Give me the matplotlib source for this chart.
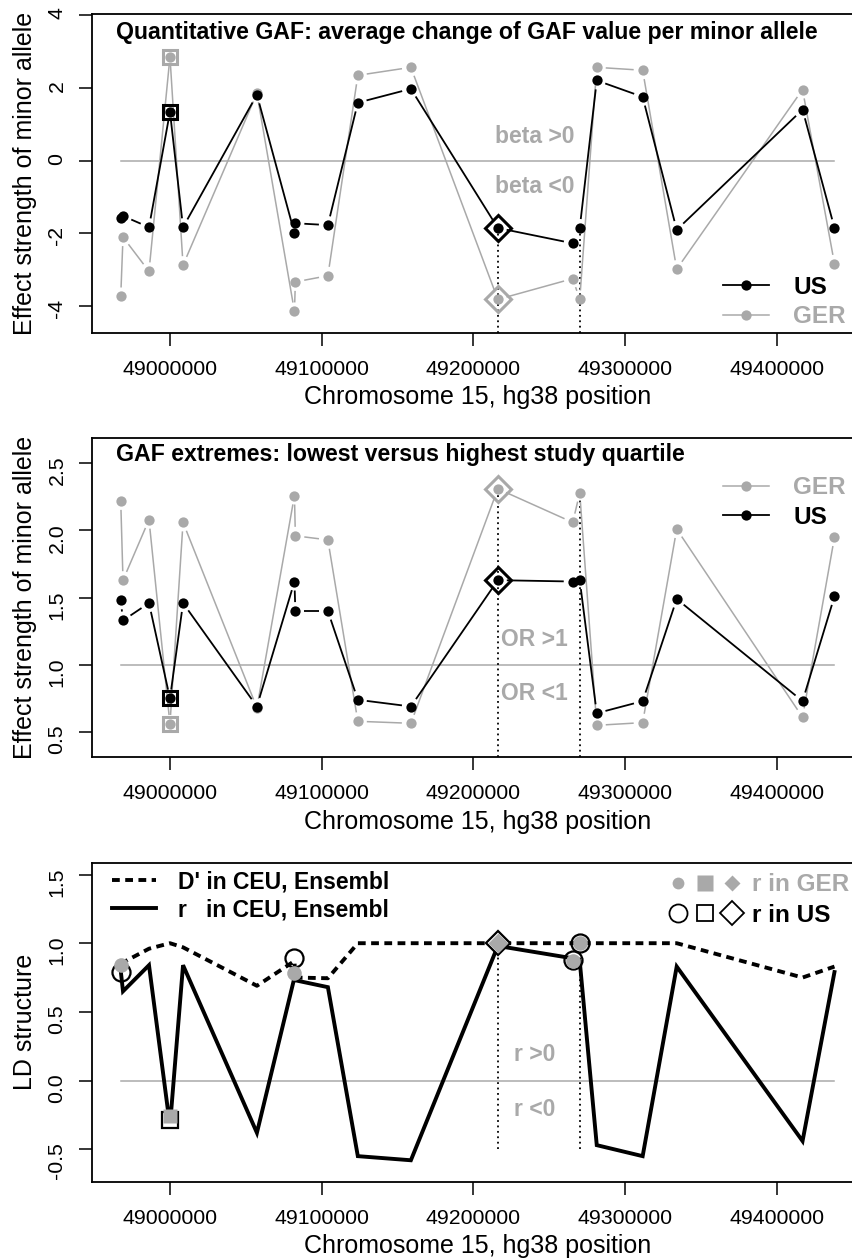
import numpy as np
import matplotlib.pyplot as plt
from matplotlib.lines import Line2D
from matplotlib.legend_handler import HandlerTuple

plt.rcParams['font.family'] = ['Liberation Sans', 'DejaVu Sans']

# SNP positions on chromosome 15 (hg38)
pos = [48967900, 48969400, 48986500, 49000300, 49008900, 49057500,
       49082200, 49082800, 49104200, 49123900, 49158800, 49216000,
       49265300, 49269900, 49281100, 49311300, 49333700, 49416500, 49437500]

# quantitative GAF: beta per minor allele
beta_us = [-1.58, -1.52, -1.83, 1.34, -1.83, 1.81, -1.99, -1.72, -1.77, 1.59,
           1.97, -1.85, -2.27, -1.85, 2.20, 1.75, -1.90, 1.40, -1.85]
beta_ger = [-3.73, -2.10, -3.04, 2.85, -2.87, 1.85, -4.14, -3.33, -3.16, 2.34,
            2.56, -3.81, -3.24, -3.81, 2.56, 2.48, -2.98, 1.95, -2.83]

# GAF extremes: odds ratios
or_us = [1.48, 1.33, 1.46, 0.75, 1.46, 0.69, 1.62, 1.40, 1.40, 0.74,
         0.69, 1.63, 1.62, 1.63, 0.64, 0.73, 1.49, 0.73, 1.51]
or_ger = [2.22, 1.63, 2.08, 0.56, 2.06, 0.68, 2.26, 1.96, 1.93, 0.58,
          0.565, 2.31, 2.06, 2.28, 0.55, 0.57, 2.01, 0.61, 1.95]

# LD in CEU (Ensembl)
dprime_ceu = [0.85, 0.86, 0.96, 1.0, 0.97, 0.69, 0.87, 0.75, 0.745, 1.0,
              1.0, 1.0, 1.0, 1.0, 1.0, 1.0, 1.0, 0.75, 0.83]
r_ceu = [0.80, 0.65, 0.84, -0.33, 0.84, -0.38, 0.75, 0.73, 0.68, -0.55,
         -0.58, 0.98, 0.89, 0.87, -0.47, -0.55, 0.83, -0.44, 0.79]

# LD of selected SNPs with the lead SNP in the two studies
ld_idx = [0, 3, 6, 11, 12, 13]
r_us = [0.79, -0.29, 0.89, 1.0, 0.88, 1.0]
r_ger = [0.84, -0.26, 0.78, 1.0, 0.87, 1.0]
ld_shape = ['o', 's', 'o', 'D', 'o', 'o']

sq_snp = 3       # marked with a square
dia_snp = 11     # marked with a diamond
vline_snps = [11, 13]

xticks = [49000000, 49100000, 49200000, 49300000, 49400000]
xlab = 'Chromosome 15, hg38 position'
GRAY = '#A9A9A9'

W, H = 853, 1259
AX_L, AX_R = 92, 863.5
AW = AX_R - AX_L
fig = plt.figure(figsize=(W / 100, H / 100), dpi=100)


def make_axes(top, bottom, ylim, yticks, fmt, ylabel):
    ax = fig.add_axes([AX_L / W, 1 - bottom / H, AW / W, (bottom - top) / H])
    ax.set_xlim(48949000, 49456600)
    ax.set_ylim(*ylim)
    ax.set_xticks(xticks)
    ax.set_xticklabels([str(t) for t in xticks])
    ax.set_yticks(yticks)
    ax.set_yticklabels([fmt % t for t in yticks])
    ax.tick_params(length=9.4, width=1.1, labelsize=15.3)
    ax.tick_params(axis='x', pad=10)
    ax.tick_params(axis='y', labelrotation=90, pad=9)
    ax.spines['right'].set_visible(False)
    for s in ['left', 'top', 'bottom']:
        ax.spines[s].set_linewidth(1.3)
    ax.set_xlabel(xlab, fontsize=18, va='center')
    ax.xaxis.set_label_coords(0.5, -64.5 / (bottom - top))
    ax.set_ylabel(ylabel, fontsize=18, va='center')
    ax.yaxis.set_label_coords(-67 / AW, 0.5)
    return ax


def gapped(ax, x, y, gap=9, **kw):
    # lines broken around the points, like R's type = "b"
    pts = ax.transData.transform(np.column_stack([x, y]))
    inv = ax.transData.inverted()
    for p0, p1 in zip(pts[:-1], pts[1:]):
        d = p1 - p0
        L = np.hypot(*d)
        if L <= 2 * gap:
            continue
        u = d / L
        a = inv.transform(p0 + u * gap)
        b = inv.transform(p1 - u * gap)
        ax.plot([a[0], b[0]], [a[1], b[1]], solid_capstyle='butt', **kw)


def effect_panel(ax, us, ger, ref, hi_txt, lo_txt, hi_y, lo_y, title, title_y):
    ax.plot([pos[0], pos[-1]], [ref, ref], color=GRAY, lw=1.1)
    bottom = ax.get_ylim()[0]
    tops = [max(us[i], ger[i]) for i in vline_snps]
    ax.vlines([pos[i] for i in vline_snps], bottom, tops, colors='black',
              linestyles=(0, (1, 2)), lw=1.3)
    gapped(ax, pos, ger, color=GRAY, lw=1.1)
    ax.plot(pos, ger, 'o', color=GRAY, ms=7.4, mec='none')
    gapped(ax, pos, us, color='black', lw=1.3)
    ax.plot(pos, us, 'o', color='black', ms=7.4, mec='none')
    for vals, c in [(ger, GRAY), (us, 'black')]:
        ax.plot(pos[sq_snp], vals[sq_snp], 's', ms=10.3, mfc='none', mec=c, mew=2.2)
        ax.plot(pos[dia_snp], vals[dia_snp], 'D', ms=13.7, mfc='none', mec=c, mew=2.2)
    ax.text(49240000, hi_y, hi_txt, color=GRAY, fontsize=16.5, fontweight='bold',
            ha='center', va='center')
    ax.text(49240000, lo_y, lo_txt, color=GRAY, fontsize=16.5, fontweight='bold',
            ha='center', va='center')
    ax.text((116 - AX_L) / AW, title_y, title, transform=ax.transAxes,
            fontsize=16.7, fontweight='bold', ha='left', va='center')


h_us = Line2D([], [], color='black', lw=1.3, marker='o', ms=7.4, mec='none')
h_ger = Line2D([], [], color=GRAY, lw=1.1, marker='o', ms=7.4, mec='none')
leg_kw = dict(frameon=False, borderpad=0, borderaxespad=0, handlelength=1.9,
              handletextpad=1.0, labelspacing=0.28, loc='center left',
              prop={'weight': 'bold', 'size': 17.5})

# panel 1
ax1 = make_axes(14, 332.7, (-4.724, 4.024), [-4, -2, 0, 2, 4], '%d',
                'Effect strength of minor allele')
effect_panel(ax1, beta_us, beta_ger, 0, 'beta >0', 'beta <0', 0.65, -0.72,
             'Quantitative GAF: average change of GAF value per minor allele', 0.9435)
ax1.legend([h_us, h_ger], ['US', 'GER'], labelcolor=['black', GRAY],
           bbox_to_anchor=((723 - AX_L) / AW, 0.0963), **leg_kw)

# panel 2
ax2 = make_axes(438, 757.3, (0.312, 2.688), [0.5, 1.0, 1.5, 2.0, 2.5], '%.1f',
                'Effect strength of minor allele')
effect_panel(ax2, or_us, or_ger, 1, 'OR >1', 'OR <1', 1.19, 0.79,
             'GAF extremes: lowest versus highest study quartile', 0.947)
ax2.legend([h_ger, h_us], ['GER', 'US'], labelcolor=[GRAY, 'black'],
           bbox_to_anchor=((723 - AX_L) / AW, 0.798), **leg_kw)

# panel 3
ax3 = make_axes(862.7, 1181.7, (-0.736, 1.586), [-0.5, 0.0, 0.5, 1.0, 1.5], '%.1f',
                'LD structure')
ax3.plot([pos[0], pos[-1]], [0, 0], color=GRAY, lw=1.1)
ax3.vlines([pos[i] for i in vline_snps], -0.5, [r_us[ld_idx.index(i)] for i in vline_snps],
           colors='black', linestyles=(0, (1, 2)), lw=1.3)
ax3.plot(pos, dprime_ceu, color='black', lw=2.8, linestyle=(0, (2.0, 1.4)))
ax3.plot(pos, r_ceu, color='black', lw=2.8, solid_joinstyle='miter')
for i, ru, rg, m in zip(ld_idx, r_us, r_ger, ld_shape):
    big = {'o': 13, 's': 11.5, 'D': 12.5}[m]
    small = {'o': 10.5, 's': 10.5, 'D': 10}[m]
    ax3.plot(pos[i], ru, m, ms=big, mfc='white' if m != 'o' else 'none', mec='black', mew=1.6)
    ax3.plot(pos[i], rg, m, ms=small, color=GRAY, mec='none')
ax3.text(49240000, 0.19, 'r >0', color=GRAY, fontsize=16.5, fontweight='bold',
         ha='center', va='center')
ax3.text(49240000, -0.21, 'r <0', color=GRAY, fontsize=16.5, fontweight='bold',
         ha='center', va='center')

h_d = Line2D([], [], color='black', lw=2.8, linestyle=(0, (2.0, 1.4)))
h_r = Line2D([], [], color='black', lw=2.8)
leg_a = ax3.legend([h_d, h_r], ["D' in CEU, Ensembl", 'r   in CEU, Ensembl'],
                   frameon=False, borderpad=0, borderaxespad=0, handlelength=1.9,
                   handletextpad=1.0, labelspacing=0.22, loc='center left',
                   bbox_to_anchor=((112 - AX_L) / AW, 0.896),
                   prop={'weight': 'bold', 'size': 16.5})
ax3.add_artist(leg_a)

g_syms = tuple(Line2D([], [], ls='none', marker=m, color=GRAY, mec='none', ms=s)
               for m, s in [('o', 8.5), ('s', 11), ('D', 8)])
u_syms = tuple(Line2D([], [], ls='none', marker=m, mfc='none', mec='black', mew=1.3, ms=s)
               for m, s in [('o', 13), ('s', 11.5), ('D', 12.5)])
ax3.legend([g_syms, u_syms], ['r in GER', 'r in US'], labelcolor=[GRAY, 'black'],
           handler_map={tuple: HandlerTuple(ndivide=None, pad=0)},
           frameon=False, borderpad=0, borderaxespad=0, handlelength=3.33,
           handletextpad=0.27, labelspacing=0.32, loc='center left',
           bbox_to_anchor=((664.5 - AX_L) / AW, 0.883),
           prop={'weight': 'bold', 'size': 17.5})

fig.savefig('out.png', dpi=100)
